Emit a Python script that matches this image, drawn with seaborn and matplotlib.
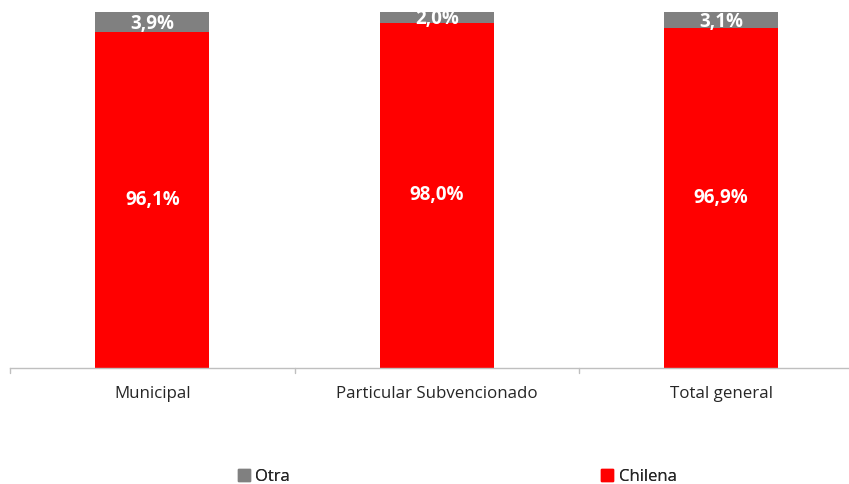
import matplotlib
matplotlib.use("Agg")
import matplotlib.pyplot as plt
import seaborn as sns
import pandas as pd
from matplotlib.patches import Patch

categories = ["Municipal", "Particular Subvencionado", "Total general"]
# bar segment heights as drawn in the picture (share of the full bar, %)
chilena = [94.5, 97.1, 95.5]
otra = [5.5, 2.9, 4.5]
# data labels as printed on the bars
chilena_labels = ["96,1%", "98,0%", "96,9%"]
otra_labels = ["3,9%", "2,0%", "3,1%"]
legend_labels = ["Otra", "Chilena"]

sns.set_theme(style="white")
plt.rcParams['font.family'] = ['Open Sans', 'DejaVu Sans']

RED = "#FF0000"
GRAY = "#808080"
TXT = "#262626"

fig = plt.figure(figsize=(8.49, 4.84), dpi=100)
W, H = 849, 484
left_px, right_px = 10, 863.5
top_px, bottom_px = 12.3, 367.7
ax = fig.add_axes([left_px / W, 1 - bottom_px / H, (right_px - left_px) / W, (bottom_px - top_px) / H])

df = pd.DataFrame({"cat": categories, "chilena": chilena, "otra": otra})
df["total"] = df["chilena"] + df["otra"]

sns.barplot(data=df, x="cat", y="total", color=GRAY, width=0.4, saturation=1, ax=ax, linewidth=0)
sns.barplot(data=df, x="cat", y="chilena", color=RED, width=0.4, saturation=1, ax=ax, linewidth=0)

ax.set_xlim(-0.5, 2.5)
ax.set_ylim(0, 100)
ax.set_xlabel("")
ax.set_ylabel("")
ax.set_yticks([])
for s in ["top", "right", "left"]:
    ax.spines[s].set_visible(False)
ax.spines["bottom"].set_color("#BFBFBF")
ax.spines["bottom"].set_linewidth(1.0)

ax.set_xticks([0, 1, 2])
ax.set_xticklabels(categories, fontsize=12.2, color=TXT)
ax.tick_params(axis="x", length=0, pad=13)
for b in [-0.5, 0.5, 1.5, 2.5]:
    ax.plot([b, b], [0, -1.5], color="#BFBFBF", lw=1.0, clip_on=False)

for i, (c, o) in enumerate(zip(chilena, otra)):
    ax.text(i, c / 2, chilena_labels[i], ha="center", va="center",
            color="white", fontsize=13.5, fontweight="bold")
    ax.text(i, c + o / 2 - 0.5, otra_labels[i], ha="center", va="center",
            color="white", fontsize=13.5, fontweight="bold")

handles = [Patch(color=GRAY), Patch(color=RED)]
for h, lab, xpx in zip(handles, legend_labels, [238, 601]):
    leg = fig.legend(handles=[h], labels=[lab], loc="center left",
                     bbox_to_anchor=(xpx / W, 1 - 477 / H), frameon=False,
                     fontsize=12, handlelength=0.7, handleheight=0.7,
                     handletextpad=0.35, borderpad=0, borderaxespad=0,
                     labelcolor=TXT)
    fig.add_artist(leg)

fig.savefig("out.png", dpi=100)
